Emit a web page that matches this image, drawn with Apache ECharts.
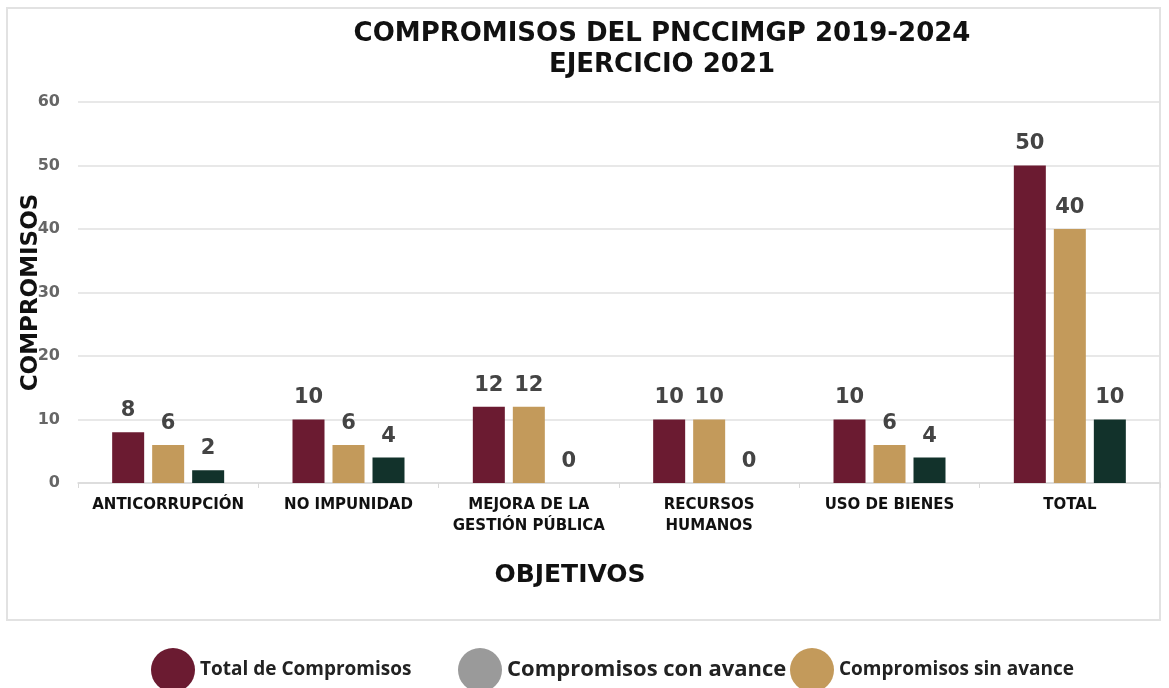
<!DOCTYPE html>
<html>
<head>
<meta charset="utf-8">
<script src="https://cdn.jsdelivr.net/npm/echarts@6/dist/echarts.min.js"></script>
<style>
  html, body { margin: 0; padding: 0; background: #fff; }
  #chart { width: 1169px; height: 688px; }
</style>
</head>
<body>
<div id="chart"></div>
<script>
const categories = ["ANTICORRUPCIÓN", "NO IMPUNIDAD", "MEJORA DE LA\nGESTIÓN PÚBLICA", "RECURSOS\nHUMANOS", "USO DE BIENES", "TOTAL"];
const totalCompromisos = [8, 10, 12, 10, 10, 50];
const sinAvance = [6, 6, 12, 10, 6, 40];
const conAvance = [2, 4, 0, 0, 4, 10];
const yTicks = [0, 10, 20, 30, 40, 50, 60];

const FONT = "DejaVu Sans";
const LEGEND_FONT = "Open Sans";
const MAROON = "#6b1b31";
const TAN = "#c39a5b";
const GREEN = "#12322b";

const chart = echarts.init(document.getElementById("chart"));

const label = {
  show: true,
  position: "top",
  distance: 11,
  color: "#444",
  fontFamily: FONT,
  fontWeight: "bold",
  fontSize: 21,
};

const legendText = (size) => ({
  color: "#222",
  fontFamily: LEGEND_FONT,
  fontWeight: "bold",
  fontSize: size,
});

chart.setOption({
  animation: false,
  title: {
    text: "COMPROMISOS DEL PNCCIMGP 2019-2024\nEJERCICIO 2021",
    left: 657,
    textAlign: "center",
    top: 14,
    textStyle: {
      color: "#111",
      fontFamily: FONT,
      fontWeight: "bold",
      fontSize: 26,
      lineHeight: 31,
    },
  },
  graphic: [
    {
      type: "rect",
      shape: { x: 7, y: 8, width: 1153, height: 612 },
      style: { fill: "none", stroke: "#e2e2e2", lineWidth: 2 },
      silent: true,
    },
  ],
  legend: [
    {
      left: 146,
      top: 643,
      icon: "circle",
      itemWidth: 44,
      itemHeight: 44,
      itemGap: 8,
      selectedMode: false,
      data: [{ name: "Total de Compromisos", itemStyle: { color: MAROON } }],
      textStyle: legendText(19),
    },
    {
      left: 453,
      top: 643,
      icon: "circle",
      itemWidth: 44,
      itemHeight: 44,
      selectedMode: false,
      data: [{ name: "Compromisos con avance", itemStyle: { color: "#9a9a9a" } }],
      textStyle: legendText(22),
    },
    {
      left: 785,
      top: 643,
      icon: "circle",
      itemWidth: 44,
      itemHeight: 44,
      selectedMode: false,
      data: [{ name: "Compromisos sin avance", itemStyle: { color: TAN } }],
      textStyle: legendText(19),
    },
  ],
  grid: { left: 78, right: 9, top: 102, bottom: 205 },
  xAxis: {
    type: "category",
    data: categories,
    name: "OBJETIVOS",
    nameLocation: "middle",
    nameGap: 80,
    nameMoveOverlap: false,
    nameTextStyle: {
      color: "#111",
      fontFamily: FONT,
      fontWeight: "bold",
      fontSize: 25,
      padding: [0, 98, 0, 0],
    },
    axisLine: { lineStyle: { color: "#d9d9d9", width: 1.5 } },
    axisTick: { show: true, length: 5, lineStyle: { color: "#d9d9d9" } },
    axisLabel: {
      color: "#111",
      fontFamily: FONT,
      fontWeight: "bold",
      fontSize: 15,
      lineHeight: 21,
      margin: 12,
      interval: 0,
    },
  },
  yAxis: {
    type: "value",
    min: 0,
    max: 60,
    interval: 10,
    name: "COMPROMISOS",
    nameLocation: "middle",
    nameGap: 35,
    nameMoveOverlap: false,
    nameTextStyle: {
      color: "#111",
      fontFamily: FONT,
      fontWeight: "bold",
      fontSize: 23,
    },
    axisLine: { show: false },
    axisTick: { show: false },
    axisLabel: {
      color: "#666",
      fontFamily: FONT,
      fontWeight: "bold",
      fontSize: 16,
      margin: 18,
      formatter: (v) => (yTicks.includes(v) ? String(v) : ""),
    },
    splitLine: { lineStyle: { color: "#e0e0e0", width: 1.5 } },
  },
  series: [
    {
      name: "Total de Compromisos",
      type: "bar",
      data: totalCompromisos,
      barWidth: 32,
      barGap: "25%",
      itemStyle: { color: MAROON },
      label: label,
    },
    {
      name: "Compromisos sin avance",
      type: "bar",
      data: sinAvance,
      barWidth: 32,
      barGap: "25%",
      itemStyle: { color: TAN },
      label: label,
    },
    {
      name: "Compromisos con avance",
      type: "bar",
      data: conAvance,
      barWidth: 32,
      barGap: "25%",
      itemStyle: { color: GREEN },
      label: label,
    },
  ],
});

window.addEventListener("resize", () => chart.resize());
</script>
</body>
</html>
